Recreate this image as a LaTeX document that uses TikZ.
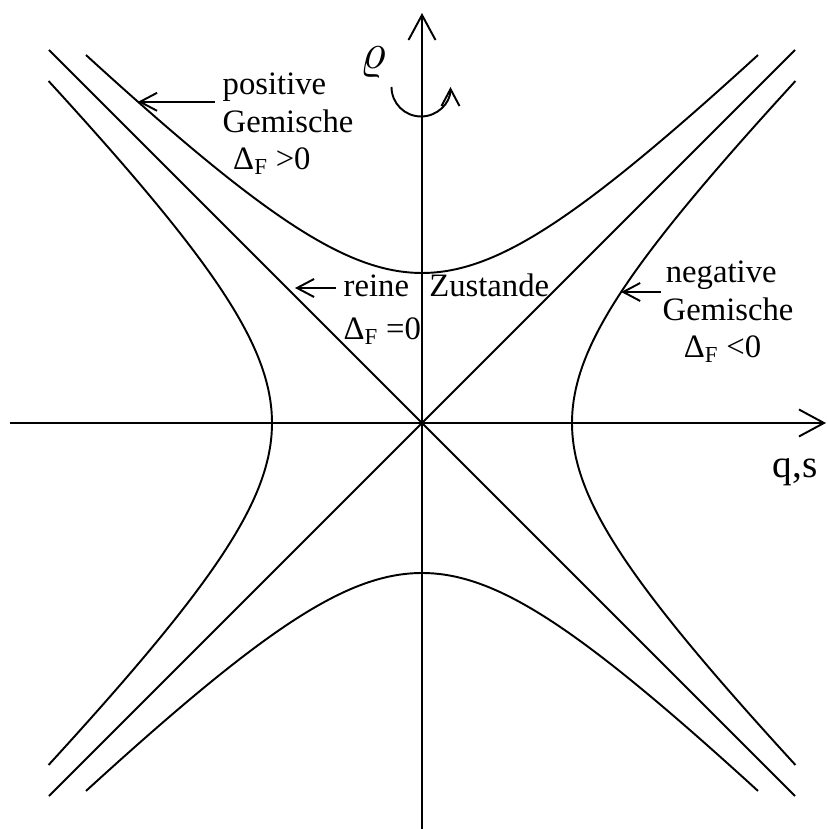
\documentclass[tikz,border=0pt]{standalone}
\usepackage{fontspec}
\setmainfont{Liberation Serif}
\usepackage{tikz}
\usetikzlibrary{arrows.meta,calc}

\begin{document}
\begin{tikzpicture}[x=1cm,y=1cm,
  curve/.style={line width=0.55pt},
  axis/.style={line width=0.55pt,-{Straight Barb[length=2.5mm,width=2.7mm]}},
  lblarrow/.style={line width=0.55pt,-{Straight Barb[length=1.7mm,width=1.8mm]},shorten <=2pt},
  turn/.style={line width=0.55pt,-{Straight Barb[length=1.7mm,width=1.8mm]}},
  lbl/.style={inner sep=0pt,font=\fontsize{9.3}{10.7}\selectfont},
  big/.style={inner sep=0pt,font=\fontsize{11.2}{13}\selectfont}]
  \useasboundingbox (-4.22,-4.06) rectangle (4.05,4.23);
  \coordinate (xa) at (-4.12,0);
  \coordinate (xb) at (4.04,0);
  \coordinate (ya) at (0,-4.06);
  \coordinate (yb) at (0,4.10);
  \draw[axis] (xa) -- (xb);
  \draw[axis] (ya) -- (yb);
  \draw[curve] (-3.73,3.73) -- (3.73,-3.73);
  \draw[curve] (-3.73,-3.73) -- (3.73,3.73);
  \draw[curve] plot[smooth,domain=-3.36:3.36,samples=61] (\x,{sqrt(2.25+\x*\x)});
  \draw[curve] plot[smooth,domain=-3.36:3.36,samples=61] (\x,{-sqrt(2.25+\x*\x)});
  \draw[curve] plot[smooth,domain=-3.42:3.42,samples=61] ({-sqrt(2.25+\x*\x)},\x);
  \draw[curve] plot[smooth,domain=-3.42:3.42,samples=61] ({sqrt(2.25+\x*\x)},\x);
  \coordinate (pG) at (-2.84,{sqrt(2.25+2.84*2.84)});
  \coordinate (rZ) at (-1.27,1.35);
  \coordinate (nG) at ({sqrt(2.25+1.31*1.31)},1.31);
  \node[lbl,anchor=base west,align=left] (pos) at (-2.0,2.53) {positive\\Gemische\\\hspace*{3pt}Δ\textsubscript{F}\hspace{2pt}>0};
  \node[lbl,anchor=base west,align=left] (rein) at (-0.79,0.83) {reine\hspace{0.62em}Zustande\\[1.6pt]Δ\textsubscript{F}\hspace{2pt}=0};
  \node[lbl,anchor=base west,align=left] (neg) at (2.40,0.65) {\hspace*{0.9pt}negative\\Gemische\\\hspace*{6pt}Δ\textsubscript{F}\hspace{2pt}<0};
  \node[big,anchor=base west] (qs) at (3.50,-0.55) {q,s};
  \node[inner sep=0pt,font=\fontsize{13.5}{15}\selectfont] (rho) at (-0.49,3.60) {$\varrho$};
  \draw[lblarrow] (pos.west |- pG) -- (pG);
  \draw[lblarrow] (rein.west |- rZ) -- (rZ);
  \draw[lblarrow,shorten <=0.3pt] (neg.west |- nG) -- (nG);
  \coordinate (rc) at (-0.01,3.36);
  \draw[turn] ($(rc)+(-0.295,0)$) arc[start angle=180,end angle=360,radius=0.295];
\end{tikzpicture}
\end{document}
